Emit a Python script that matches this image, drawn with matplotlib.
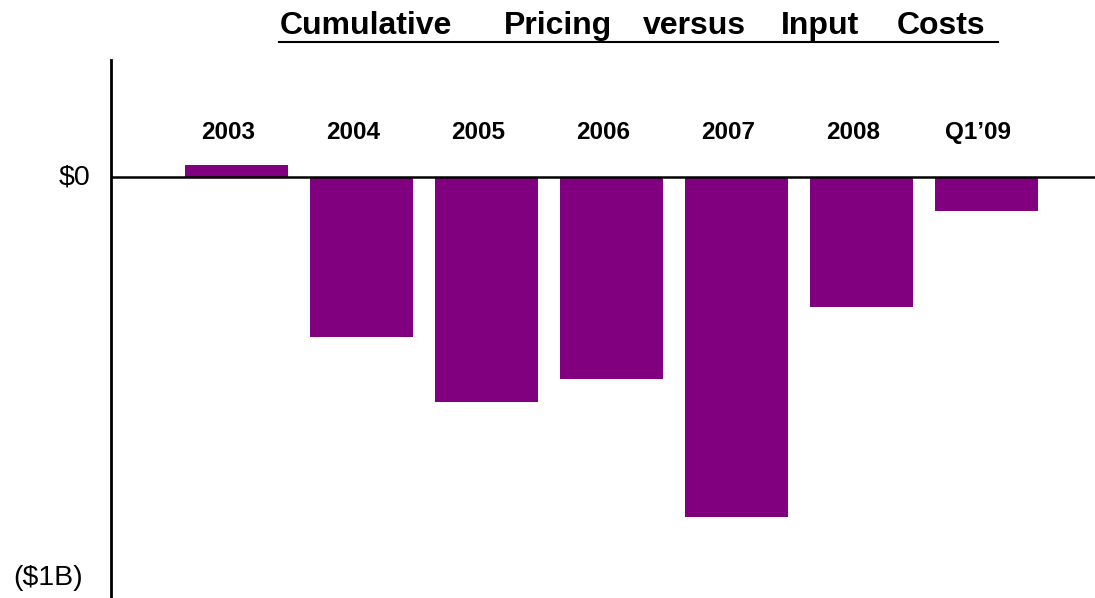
import matplotlib
matplotlib.use("Agg")
import matplotlib.pyplot as plt
from matplotlib.lines import Line2D

plt.rcParams['font.family'] = ['Liberation Sans', 'DejaVu Sans']

# Cumulative pricing minus input costs, in $ billions
periods = ["2003", "2004", "2005", "2006", "2007", "2008", "Q1\u201909"]
net_billions = [0.031, -0.399, -0.561, -0.504, -0.848, -0.323, -0.085]
ytick_values = [0, -1]
ytick_labels = ["$0", "($1B)"]
title_words = ["Cumulative", "Pricing", "versus", "Input", "Costs"]

W, H = 1095, 598
fig = plt.figure(figsize=(W / 100, H / 100), dpi=100)
fig.patch.set_facecolor("white")

# axes box in pixel units: left edge is the vertical axis line
left_px, right_px, top_px, bot_px = 111, 1095, 60, 598
ax = fig.add_axes([left_px / W, 1 - bot_px / H,
                   (right_px - left_px) / W, (bot_px - top_px) / H])

x = list(range(len(periods)))
ax.bar(x, net_billions, width=0.83, color="#800080", zorder=2)

ax.set_xlim(-1.004, 6.868)
ax.set_ylim(-1.05, 0.292)

for s in ["top", "right", "bottom"]:
    ax.spines[s].set_visible(False)
ax.spines["left"].set_linewidth(2.0)
ax.spines["left"].set_color("black")
ax.axhline(0, color="black", lw=1.8, zorder=3)

ax.set_xticks([])
ax.set_yticks([])

# y-axis value labels
for v, lab, off in zip(ytick_values, ytick_labels, [-21, -28]):
    ax.annotate(lab, xy=(0, v), xycoords=("axes fraction", "data"),
                xytext=(off * 0.72, 0), textcoords="offset points",
                ha="right", va="center", fontsize=20.5, color="black")

# period labels above the zero line
for xi, lab in zip(x, periods):
    ax.text(xi - 0.07, 0.11, lab, ha="center", va="center",
            fontsize=17.5, fontweight="bold", color="black")

# underlined title, words spread across the top
word_left_px = [280, 504, 643, 781, 897]
for w, lx in zip(title_words, word_left_px):
    fig.text(lx / W, 1 - 26 / H, w, ha="left", va="center",
             fontsize=23, fontweight="bold", color="black")
fig.add_artist(Line2D([279 / W, 998 / W], [1 - 41.7 / H, 1 - 41.7 / H],
                      transform=fig.transFigure, color="black", lw=1.5))

fig.savefig("out.png", dpi=100, facecolor="white")
